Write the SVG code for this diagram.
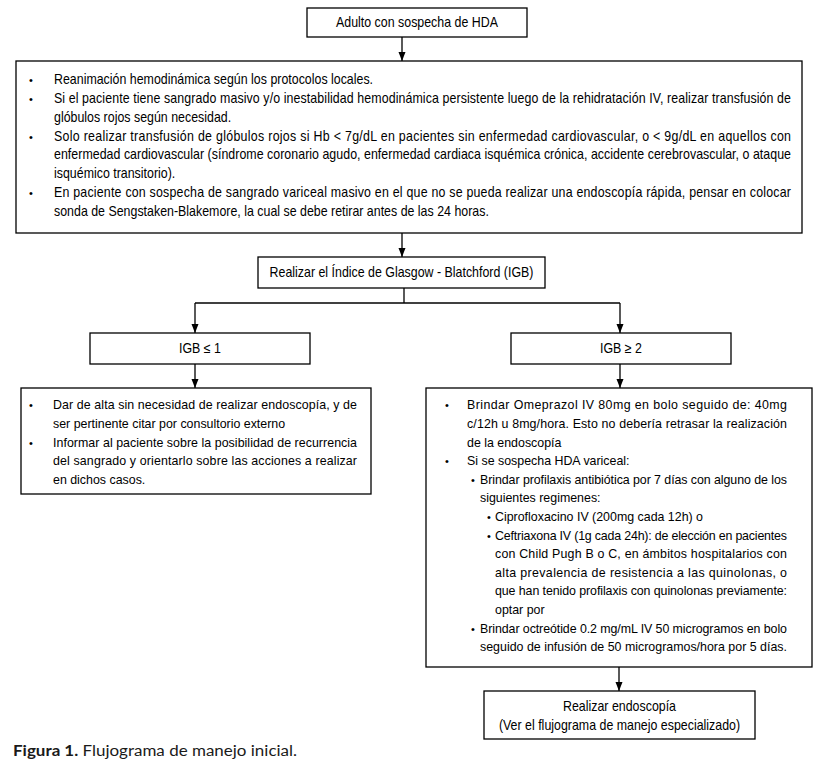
<svg xmlns="http://www.w3.org/2000/svg" width="827" height="773" viewBox="0 0 827 773">
<style>
.box{fill:#fff;stroke:#000;stroke-width:1.3}
.t{font-family:"Liberation Sans",Arial,sans-serif;font-size:12.4px;fill:#000}
.n{font-family:"Liberation Sans",Arial,sans-serif;font-size:14px;fill:#000}
.c{text-anchor:middle}
.b{font-family:"Liberation Sans",Arial,sans-serif;font-size:11px;fill:#000}
.ln{fill:none;stroke:#000;stroke-width:1.3}
.cap{font-family:Lato,"Open Sans",sans-serif;font-size:15.5px;fill:#1a1a1a}
</style>
<defs>
<marker id="ah" markerUnits="userSpaceOnUse" markerWidth="9" markerHeight="8" refX="9" refY="4" orient="auto">
<path d="M0,0.5 L9,4 L0,7.5 z" fill="#000"/>
</marker>
</defs>
<rect width="827" height="773" fill="#fff"/>

<g id="connectors">
<line class="ln" x1="402" y1="37" x2="402" y2="61" marker-end="url(#ah)"/>
<line class="ln" x1="402" y1="233" x2="402" y2="257" marker-end="url(#ah)"/>
<polyline class="ln" points="404,288 404,303"/>
<polyline class="ln" points="195,303 620,303"/>
<line class="ln" x1="195" y1="303" x2="195" y2="333" marker-end="url(#ah)"/>
<line class="ln" x1="620" y1="303" x2="620" y2="333" marker-end="url(#ah)"/>
<line class="ln" x1="195" y1="364" x2="195" y2="388" marker-end="url(#ah)"/>
<line class="ln" x1="620" y1="364" x2="620" y2="388" marker-end="url(#ah)"/>
<line class="ln" x1="619" y1="667" x2="619" y2="691" marker-end="url(#ah)"/>
</g>

<g id="n_adulto">
<rect class="box" x="307" y="8" width="220" height="29"/>
<text class="n c" transform="scale(0.886 1)" x="470.65" y="27.5">Adulto con sospecha de HDA</text>
</g>

<g id="n_reanimacion">
<rect class="box" x="16" y="61" width="786" height="172"/>
<text class="b" x="29" y="84.3">•</text>
<text class="b" x="29" y="103.1">•</text>
<text class="b" x="29" y="140.7">•</text>
<text class="b" x="29" y="197.1">•</text>
<g transform="scale(0.886 1)">
<text class="n" x="60.95" y="84.3">Reanimación hemodinámica según los protocolos locales.</text>
<text class="n" x="60.95" y="103.1" textLength="831.8" lengthAdjust="spacing">Si el paciente tiene sangrado masivo y/o inestabilidad hemodinámica persistente luego de la rehidratación IV, realizar transfusión de</text>
<text class="n" x="60.95" y="121.9">glóbulos rojos según necesidad.</text>
<text class="n" x="60.95" y="140.7" textLength="831.8" lengthAdjust="spacing">Solo realizar transfusión de glóbulos rojos si Hb &lt; 7g/dL en pacientes sin enfermedad cardiovascular, o &lt; 9g/dL en aquellos con</text>
<text class="n" x="60.95" y="159.5" textLength="831.8" lengthAdjust="spacing">enfermedad cardiovascular (síndrome coronario agudo, enfermedad cardiaca isquémica crónica, accidente cerebrovascular, o ataque</text>
<text class="n" x="60.95" y="178.3">isquémico transitorio).</text>
<text class="n" x="60.95" y="197.1" textLength="831.8" lengthAdjust="spacing">En paciente con sospecha de sangrado variceal masivo en el que no se pueda realizar una endoscopía rápida, pensar en colocar</text>
<text class="n" x="60.95" y="215.9">sonda de Sengstaken-Blakemore, la cual se debe retirar antes de las 24 horas.</text>
</g>
</g>

<g id="n_igb">
<rect class="box" x="258" y="257" width="287" height="31"/>
<text class="n c" transform="scale(0.886 1)" x="453.16" y="277.5">Realizar el Índice de Glasgow - Blatchford (IGB)</text>
</g>

<g id="n_igb_low">
<rect class="box" x="90" y="333" width="220" height="31"/>
<text class="n c" transform="scale(0.886 1)" x="225.73" y="353.5">IGB ≤ 1</text>
</g>

<g id="n_igb_high">
<rect class="box" x="511" y="333" width="220" height="31"/>
<text class="n c" transform="scale(0.886 1)" x="700.9" y="353.5">IGB ≥ 2</text>
</g>

<g id="n_alta">
<rect class="box" x="21" y="388" width="350" height="106"/>
<text class="b" x="29" y="409.3">•</text>
<text class="t" x="53" y="409.3" textLength="304" lengthAdjust="spacing">Dar de alta sin necesidad de realizar endoscopía, y de</text>
<text class="t" x="53" y="427.9">ser pertinente citar por consultorio externo</text>
<text class="b" x="29" y="446.5">•</text>
<text class="t" x="53" y="446.5" textLength="304" lengthAdjust="spacing">Informar al paciente sobre la posibilidad de recurrencia</text>
<text class="t" x="53" y="465.1" textLength="304" lengthAdjust="spacing">del sangrado y orientarlo sobre las acciones a realizar</text>
<text class="t" x="53" y="483.7">en dichos casos.</text>
</g>

<g id="n_tratamiento">
<rect class="box" x="426" y="388" width="386" height="279"/>
<text class="b" x="445" y="409.3">•</text>
<text class="t" x="467" y="409.3" textLength="320" lengthAdjust="spacing">Brindar Omeprazol IV 80mg en bolo seguido de: 40mg</text>
<text class="t" x="467" y="427.9" textLength="320" lengthAdjust="spacing">c/12h u 8mg/hora. Esto no debería retrasar la realización</text>
<text class="t" x="467" y="446.5">de la endoscopía</text>
<text class="b" x="445" y="465.1">•</text>
<text class="t" x="467" y="465.1">Si se sospecha HDA variceal:</text>
<text class="b" x="471" y="483.7">•</text>
<text class="t" x="480" y="483.7" textLength="307" lengthAdjust="spacing">Brindar profilaxis antibiótica por 7 días con alguno de los</text>
<text class="t" x="480" y="502.3">siguientes regimenes:</text>
<text class="b" x="487" y="520.9">•</text>
<text class="t" x="495" y="520.9">Ciprofloxacino IV (200mg cada 12h) o</text>
<text class="b" x="487" y="539.5">•</text>
<text class="t" x="495" y="539.5" textLength="292" lengthAdjust="spacing">Ceftriaxona IV (1g cada 24h): de elección en pacientes</text>
<text class="t" x="495" y="558.1" textLength="292" lengthAdjust="spacing">con Child Pugh B o C, en ámbitos hospitalarios con</text>
<text class="t" x="495" y="576.7" textLength="292" lengthAdjust="spacing">alta prevalencia de resistencia a las quinolonas, o</text>
<text class="t" x="495" y="595.3" textLength="292" lengthAdjust="spacing">que han tenido profilaxis con quinolonas previamente:</text>
<text class="t" x="495" y="613.9">optar por</text>
<text class="b" x="471" y="632.5">•</text>
<text class="t" x="480" y="632.5" textLength="307" lengthAdjust="spacing">Brindar octreótide 0.2 mg/mL IV 50 microgramos en bolo</text>
<text class="t" x="480" y="651.1" textLength="307" lengthAdjust="spacing">seguido de infusión de 50 microgramos/hora por 5 días.</text>
</g>

<g id="n_endoscopia">
<rect class="box" x="484" y="691" width="271" height="48"/>
<text class="n c" transform="scale(0.886 1)" x="699.21" y="711.5">Realizar endoscopía</text>
<text class="n c" transform="scale(0.886 1)" x="699.21" y="730.5">(Ver el flujograma de manejo especializado)</text>
</g>

<text class="cap" x="13" y="756" textLength="284" lengthAdjust="spacingAndGlyphs"><tspan font-weight="bold">Figura 1.</tspan> Flujograma de manejo inicial.</text>
</svg>
